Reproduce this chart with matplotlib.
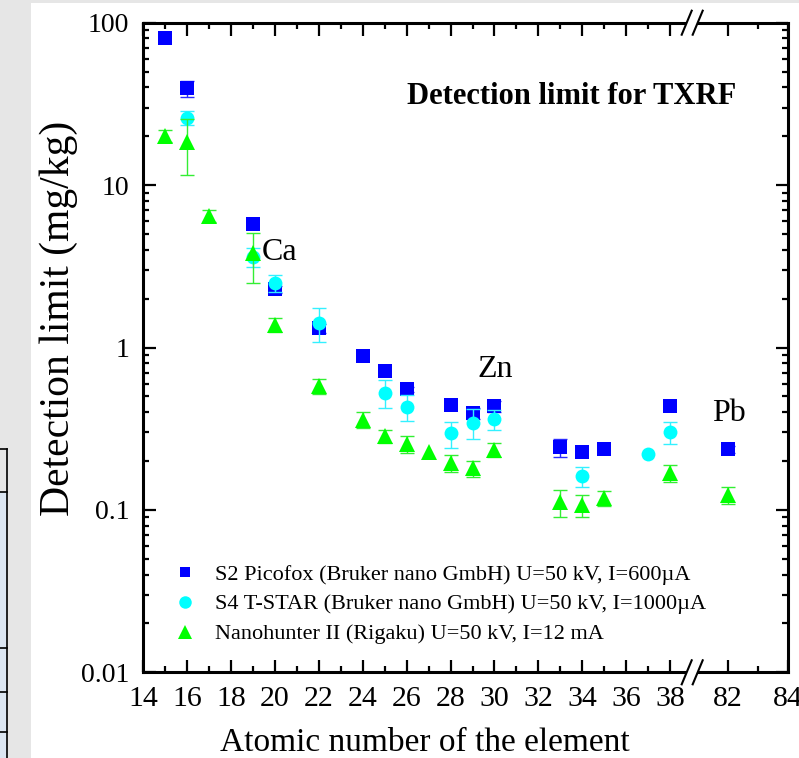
import matplotlib
matplotlib.use("Agg")
import matplotlib.pyplot as plt
from matplotlib.lines import Line2D
from matplotlib.patches import Rectangle, Polygon
from matplotlib.ticker import LogLocator, NullFormatter, FixedLocator

plt.rcParams["font.family"] = ["Liberation Serif", "DejaVu Serif"]

# ---- data: detection limits (mg/kg) by atomic number ----
z_s2 = [15, 16, 19, 20, 22, 24, 25, 26, 28, 29, 30, 33, 34, 35, 38, 82]
dl_s2 = [80.0, 39.5, 5.8, 2.28, 1.31, 0.887, 0.716, 0.553, 0.441, 0.394, 0.436,
         0.243, 0.228, 0.236, 0.436, 0.236]
err_s2 = [0, 4.5, 0, 0.12, 0.08, 0, 0, 0.02, 0, 0.03, 0.035, 0.03, 0, 0, 0, 0.012]

z_s4 = [16, 19, 20, 22, 25, 26, 28, 29, 30, 34, 37, 38]
dl_s4 = [26.0, 3.62, 2.51, 1.41, 0.527, 0.432, 0.296, 0.345, 0.361, 0.162, 0.221, 0.303]
err_s4 = [2.7, 0.5, 0.3, 0.33, 0.105, 0.08, 0.054, 0.072, 0.05, 0.023, 0, 0.047]

z_nh = [15, 16, 17, 19, 20, 22, 24, 25, 26, 27, 28, 29, 30, 33, 34, 35, 38, 82]
dl_nh = [20.1, 18.5, 6.45, 3.8, 1.38, 0.579, 0.358, 0.285, 0.255, 0.228, 0.194,
         0.180, 0.234, 0.112, 0.107, 0.118, 0.168, 0.124]
err_nh = [1.6, 7.0, 0.55, 1.3, 0.13, 0.06, 0.04, 0.025, 0.03, 0, 0.023, 0.02,
          0.023, 0.021, 0.016, 0.013, 0.02, 0.015]

labels = [
    "S2 Picofox (Bruker nano GmbH) U=50 kV, I=600\u00b5A",
    "S4 T-STAR (Bruker nano GmbH) U=50 kV, I=1000\u00b5A",
    "Nanohunter II (Rigaku) U=50 kV, I=12 mA",
]

element_labels = ["Ca", "Zn", "Pb"]
element_pos = [(19.4, 3.87), (29.23, 0.737), (81.47, 0.395)]

y_ticks = [0.01, 0.1, 1, 10, 100]
y_ticklabels = ["0.01", "0.1", "1", "10", "100"]
x_major_left = list(range(14, 39, 2))
x_minor_left = list(range(15, 38, 2))
x_major_right = [82, 84]
x_minor_right = [83]

# ---- figure layout (pixel geometry) ----
W, H = 799, 758
fig = plt.figure(figsize=(W / 100, H / 100), dpi=100, facecolor="#e6e6e6")


def fx(px):
    return px / W


def fy(py):
    return 1 - py / H


# white page panel
fig.add_artist(Rectangle((fx(31), 0), 1 - fx(31), fy(3), transform=fig.transFigure,
                         facecolor="white", edgecolor="none", zorder=-10))
# neighbouring table fragment at the left edge
fig.add_artist(Rectangle((0, 0), fx(7), fy(492), transform=fig.transFigure,
                         facecolor="#dce6f2", edgecolor="none", zorder=-9))
fig.add_artist(Line2D([fx(7), fx(7)], [fy(449), 0], transform=fig.transFigure,
                      color="black", lw=1.2, zorder=-8))
for yy in [449, 492, 648, 692, 732]:
    fig.add_artist(Line2D([0, fx(7)], [fy(yy), fy(yy)], transform=fig.transFigure,
                          color="black", lw=1.2, zorder=-8))

x_left, x_break, x_right = 143.3, 692.0, 788.0
y_top, y_bot = 22.7, 672.3
ax1 = fig.add_axes([fx(x_left), fy(y_bot), fx(x_break) - fx(x_left), fy(y_top) - fy(y_bot)])
ax2 = fig.add_axes([fx(x_break), fy(y_bot), fx(x_right) - fx(x_break), fy(y_top) - fy(y_bot)],
                   sharey=ax1)
for ax in (ax1, ax2):
    ax.set_facecolor("none")

series = [
    (z_s2, dl_s2, err_s2, "s", "#0000ff", "#2a2aff", 9.4),
    (z_s4, dl_s4, err_s4, "o", "#00ffff", "#33f0ff", 10.0),
    (z_nh, dl_nh, err_nh, "^", "#00ff00", "#33ee33", 12.0),
]

for ax, lo, hi in ((ax1, 0, 39), (ax2, 80, 90)):
    for k, (z, v, e, m, c, ec, ms) in enumerate(series):
        zz = [z[i] for i in range(len(z)) if lo <= z[i] <= hi]
        vv = [v[i] for i in range(len(z)) if lo <= z[i] <= hi]
        ez = [z[i] for i in range(len(z)) if lo <= z[i] <= hi and e[i] > 0]
        ev = [v[i] for i in range(len(z)) if lo <= z[i] <= hi and e[i] > 0]
        ee = [e[i] for i in range(len(z)) if lo <= z[i] <= hi and e[i] > 0]
        if ez:
            ax.errorbar(ez, ev, yerr=ee, fmt="none", ecolor=ec, elinewidth=1.0,
                        capsize=5, capthick=1.0, zorder=3 + 2 * k)
        ax.plot(zz, vv, linestyle="none", marker=m, color=c, markersize=ms,
                markeredgewidth=0, zorder=4 + 2 * k)

ax1.set_yscale("log")
ax1.set_ylim(0.01, 100)
ax1.set_yticks(y_ticks)
ax1.set_yticklabels(y_ticklabels)
ax1.yaxis.set_minor_locator(LogLocator(base=10, subs=range(2, 10)))
ax1.yaxis.set_minor_formatter(NullFormatter())

ax1.set_xlim(14, 39)
ax1.xaxis.set_major_locator(FixedLocator(x_major_left))
ax1.xaxis.set_minor_locator(FixedLocator(x_minor_left))
ax2.set_xlim(80.8, 84)
ax2.xaxis.set_major_locator(FixedLocator(x_major_right))
ax2.xaxis.set_minor_locator(FixedLocator(x_minor_right))

for ax in (ax1, ax2):
    for s in ax.spines.values():
        s.set_linewidth(2.2)
    ax.tick_params(which="both", direction="in", top=True, width=1.6)
    ax.tick_params(axis="x", pad=10, labelsize=21.5)
    ax.tick_params(axis="y", pad=10, labelsize=20)
    ax.tick_params(which="major", length=9)
    ax.tick_params(which="minor", length=4.5)
ax1.spines["right"].set_visible(False)
ax1.tick_params(which="both", right=False, left=True)
ax2.spines["left"].set_visible(False)
ax2.tick_params(which="both", left=False, right=True, labelleft=False, labelright=False)

ax1.set_xlabel("Atomic number of the element", fontsize=24, va="center")
ax1.xaxis.set_label_coords(0.513, -0.109)
ax1.set_ylabel("Detection limit (mg/kg)", fontsize=30, va="center")
ax1.yaxis.set_label_coords(-0.155, 0.545)

for txt, (xv, yv) in zip(element_labels, element_pos):
    target = ax2 if xv > 60 else ax1
    target.text(xv, yv, txt, ha="left", va="center", fontsize=23, zorder=10)

fig.text(fx(572), fy(97), "Detection limit for TXRF", ha="center", va="center",
         fontsize=22, fontweight="bold")

# axis break marks on the top and bottom spines
for yc in (y_top, y_bot):
    c1, c2, dx, dy = 686.7, 697.7, 5.0, 12.0
    fig.add_artist(Polygon([(fx(c1 - dx), fy(yc + dy)), (fx(c1 + dx), fy(yc - dy)),
                            (fx(c2 + dx), fy(yc - dy)), (fx(c2 - dx), fy(yc + dy))],
                           closed=True, transform=fig.transFigure, facecolor="white",
                           edgecolor="none", zorder=20))
    for c in (c1, c2):
        fig.add_artist(Line2D([fx(c - dx), fx(c + dx)], [fy(yc + dy), fy(yc - dy)],
                              transform=fig.transFigure, color="black", lw=1.5, zorder=21))

handles = [
    Line2D([], [], linestyle="none", marker="s", color="#0000ff", markersize=7.7, markeredgewidth=0),
    Line2D([], [], linestyle="none", marker="o", color="#00ffff", markersize=9.0, markeredgewidth=0),
    Line2D([], [], linestyle="none", marker="^", color="#00ff00", markersize=9.5, markeredgewidth=0),
]
fig.legend(handles, labels, loc="upper left", bbox_to_anchor=(fx(169), fy(564)),
           frameon=False, fontsize=16, handlelength=1.4, handletextpad=0.68,
           labelspacing=0.42, borderpad=0, borderaxespad=0)

fig.savefig("out.png", dpi=100, facecolor=fig.get_facecolor())
